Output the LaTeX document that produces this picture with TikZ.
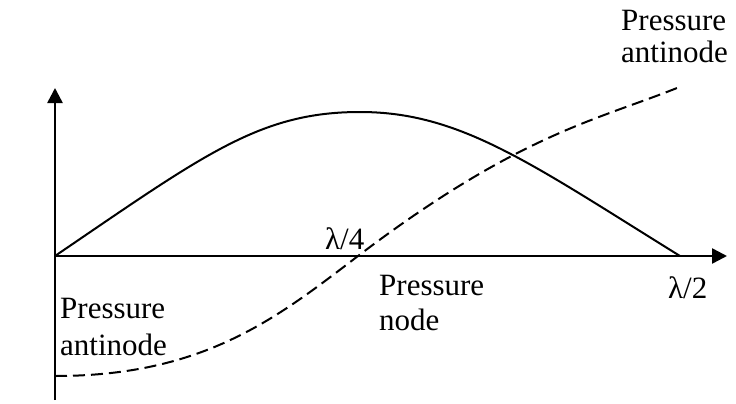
\documentclass[tikz,border=0pt]{standalone}
\usepackage{fontspec}
\setmainfont{Liberation Serif}
\usetikzlibrary{arrows.meta}
\begin{document}
\begin{tikzpicture}[x=1pt,y=-1pt,
  axis/.style={line width=2.5pt,-{Triangle[length=15pt,width=15pt]}},
  wave/.style={line width=2pt},
  dashwave/.style={line width=2pt,dash pattern=on 12pt off 6pt},
  lbl/.style={font=\fontsize{31}{#1}\selectfont,inner sep=0pt,anchor=base west,align=left},
  lbl/.default=35]
\useasboundingbox (0,0) rectangle (736,404);
\coordinate (O) at (55,256);
\coordinate (ytop) at (55,88);
\coordinate (ybot) at (55,400);
\coordinate (xend) at (727,256);
\coordinate (peak) at (360,112);
\coordinate (half) at (680,256);
\coordinate (dstart) at (55,376);
\coordinate (dmid) at (358,256);
\coordinate (dend) at (677,88);
% axes
\draw[axis] (ybot) -- (ytop);
\draw[axis] (O) -- (xend);
% solid wave
\draw[wave] (O) .. controls (205,154) and (260,112) .. (peak)
  .. controls (460,112) and (530,163) .. (half);
% dashed pressure curve
\draw[dashwave] (dstart) .. controls (205,376) and (278,317) .. (dmid)
  .. controls (518,134.4) and (597,120) .. (dend);
% labels (anchor = baseline of the last line)
\node[lbl=32] (antitop) at (621,63) {Pressure\\antinode};
\node[lbl=37] (antibot) at (60,355) {Pressure\\antinode};
\node[lbl=35] (pnode) at (379,330) {Pressure\\node};
\node[lbl] (quarter) at (325,249) {λ/4};
\node[lbl] (halfl) at (668,298) {λ/2};
\end{tikzpicture}
\end{document}
